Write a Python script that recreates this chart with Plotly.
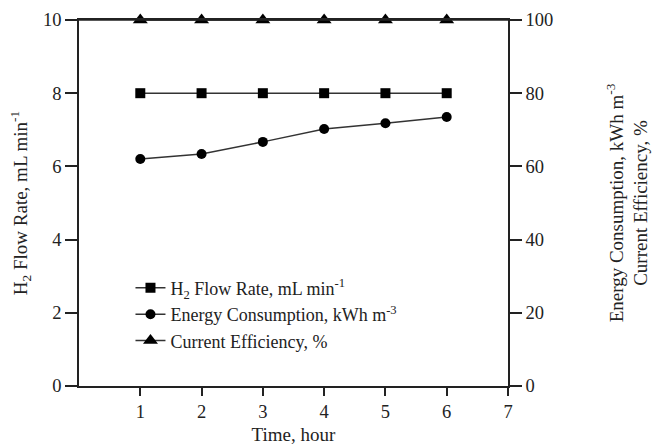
import plotly.graph_objects as go

time_h = [1, 2, 3, 4, 5, 6]
h2_flow = [8, 8, 8, 8, 8, 8]
energy = [62.0, 63.4, 66.7, 70.2, 71.8, 73.5]
efficiency = [100, 100, 100, 100, 100, 100]
x_ticks = [1, 2, 3, 4, 5, 6, 7]
y_ticks = [0, 2, 4, 6, 8, 10]
y2_ticks = [0, 20, 40, 60, 80, 100]

FONT = "Liberation Serif"
INK = "#222222"
LINE = "#333333"

fig = go.Figure()
fig.add_trace(go.Scatter(
    x=time_h, y=h2_flow, mode="lines+markers",
    name="H<sub>2</sub> Flow Rate, mL min<sup>-1</sup>",
    line=dict(color=LINE, width=1.5),
    marker=dict(symbol="square", size=10, color="black"),
    cliponaxis=False,
))
fig.add_trace(go.Scatter(
    x=time_h, y=energy, mode="lines+markers", yaxis="y2",
    name="Energy Consumption, kWh m<sup>-3</sup>",
    line=dict(color=LINE, width=1.5),
    marker=dict(symbol="circle", size=10, color="black"),
    cliponaxis=False,
))
fig.add_trace(go.Scatter(
    x=time_h, y=efficiency, mode="lines+markers", yaxis="y2",
    name="Current Efficiency, %",
    line=dict(color=LINE, width=1.5),
    marker=dict(symbol="triangle-up", size=13, color="black"),
    cliponaxis=False,
))

axis_common = dict(
    showgrid=False, zeroline=False, showline=True, linecolor=INK, linewidth=1.5,
    ticks="outside", tickcolor=INK, tickwidth=1.5, automargin=False,
    tickfont=dict(family=FONT, size=18.5, color=INK),
)

fig.update_layout(
    width=657, height=445,
    margin=dict(l=79, r=149, t=20, b=59),
    paper_bgcolor="white", plot_bgcolor="white",
    font=dict(family=FONT, color=INK),
    showlegend=True,
    legend=dict(
        x=0.12, y=0.318, xanchor="left", yanchor="top",
        bgcolor="rgba(0,0,0,0)", borderwidth=0,
        font=dict(family=FONT, size=18, color=INK),
        tracegroupgap=0, itemsizing="trace",
    ),
    xaxis=dict(
        **axis_common, range=[0, 7], tickvals=x_ticks, ticklen=8, mirror=True,
        title=dict(text="Time, hour", font=dict(family=FONT, size=19, color=INK), standoff=7),
    ),
    yaxis=dict(
        **axis_common, range=[0, 10], tickvals=y_ticks, ticklen=12,
        title=dict(text="H<sub>2</sub> Flow Rate, mL min<sup>-1</sup>",
                   font=dict(family=FONT, size=19, color=INK), standoff=10),
    ),
    yaxis2=dict(
        **axis_common, range=[0, 100], tickvals=y2_ticks, ticklen=12,
        overlaying="y", side="right",
        title=dict(text="Energy Consumption, kWh m<sup>-3</sup><br>Current Efficiency, %",
                   font=dict(family=FONT, size=19, color=INK), standoff=57),
    ),
)
fig.add_shape(type="line", xref="paper", yref="paper", x0=0, x1=1, y0=1, y1=1,
              line=dict(color=INK, width=1.5))

fig.write_html("out.html")
